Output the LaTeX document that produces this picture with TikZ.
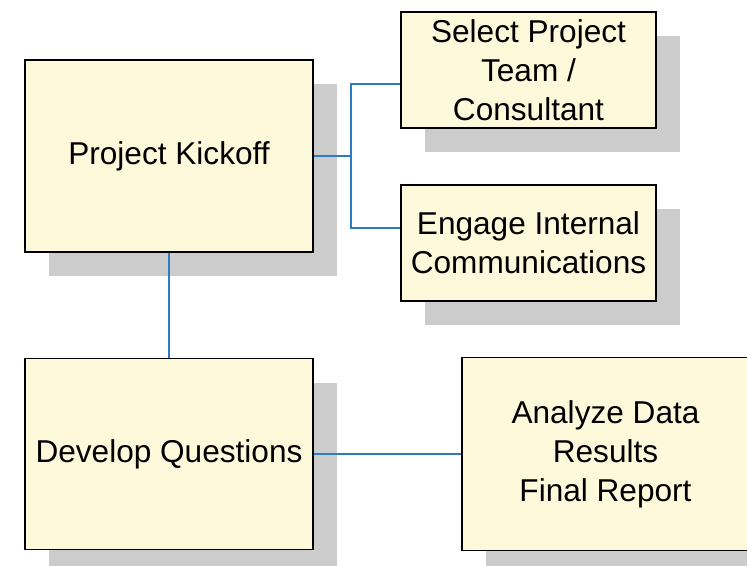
\documentclass[tikz,border=0pt]{standalone}
\usepackage{fontspec}
\setmainfont{Liberation Sans}
\usetikzlibrary{shadows}
\definecolor{boxfill}{HTML}{FFF9DC}
\definecolor{shadowgray}{HTML}{CCCCCC}
\definecolor{linkblue}{HTML}{2A7DC4}
\begin{document}
\begin{tikzpicture}[x=1pt,y=-1pt,
  box/.style={draw=black, line width=1.2pt, fill=boxfill, align=center,
    font=\fontsize{31.6}{39}\selectfont, inner sep=0pt,
    general shadow={fill=shadowgray, shadow xshift=24pt, shadow yshift=-24pt}},
  link/.style={draw=linkblue, line width=1.3pt}]
\useasboundingbox (0,0) rectangle (747,565);
\clip (0,0) rectangle (747,565);

% process steps
\node[box, minimum width=288pt, minimum height=192pt] (kick) at (169,156) {Project Kickoff};
\node[box, minimum width=255pt, minimum height=116pt] (team) at (528.5,70) {Select Project\\Team /\\Consultant};
\node[box, minimum width=255pt, minimum height=116pt] (comm) at (528.5,243) {Engage Internal\\Communications};
\node[box, minimum width=288pt, minimum height=191pt] (quest) at (169,454) {Develop Questions};
\node[box, minimum width=287pt, minimum height=193pt] (report) at (605.5,454) {Analyze Data\\Results\\Final Report};

% connectors
\coordinate (fork) at (351,156);
\draw[link] (kick.east) -- (fork);
\draw[link] (fork) |- ([yshift=-14pt]team.west);
\draw[link] (fork) |- ([yshift=15pt]comm.west);
\draw[link] (kick.south) -- (quest.north);
\draw[link] (quest.east) -- (report.west);
\end{tikzpicture}
\end{document}
